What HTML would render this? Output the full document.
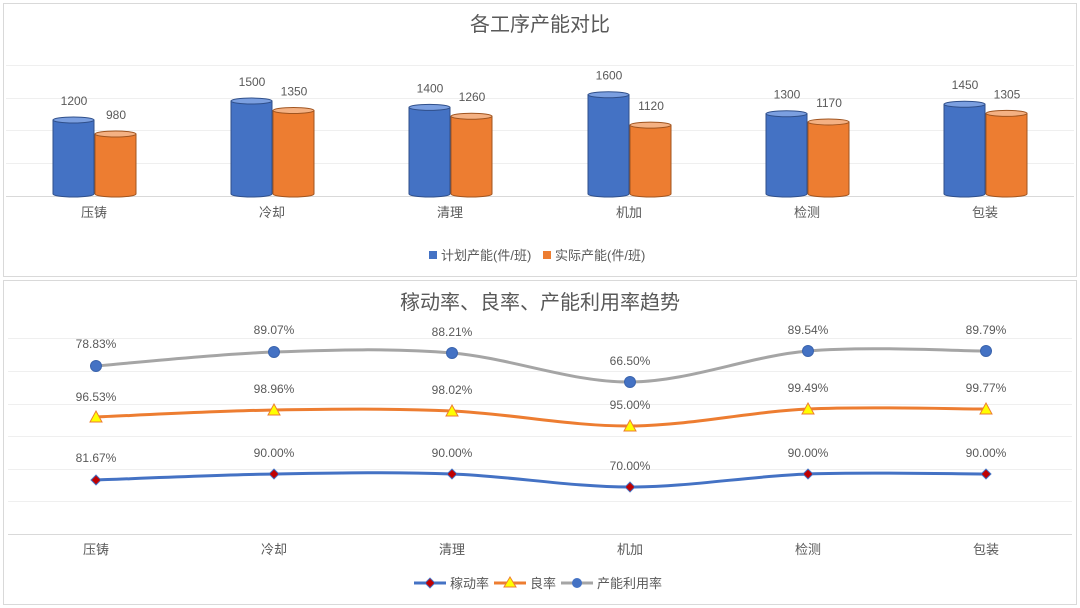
<!DOCTYPE html>
<html><head><meta charset="utf-8"><style>
body{margin:0;background:#fff;width:1080px;height:608px;overflow:hidden}
svg{display:block}
text{font-family:"Liberation Sans","Noto Sans CJK SC",sans-serif;fill:#595959}
</style></head><body>
<svg id="s" width="1080" height="608" viewBox="0 0 1080 608">
<rect x="3.5" y="3.5" width="1073" height="273" fill="#fff" stroke="#d9d9d9"/>
<rect x="3.5" y="280.5" width="1073" height="324" fill="#fff" stroke="#d9d9d9"/>
<text x="540" y="31" font-size="20" text-anchor="middle">各工序产能对比</text>
<g stroke="#efefef" stroke-width="1">
<line x1="6" x2="1074" y1="65.5" y2="65.5"/><line x1="6" x2="1074" y1="98.5" y2="98.5"/><line x1="6" x2="1074" y1="130.5" y2="130.5"/><line x1="6" x2="1074" y1="163.5" y2="163.5"/>
</g>
<line x1="6" x2="1074" y1="196.5" y2="196.5" stroke="#d9d9d9"/>
<g id="bars"></g>
<g font-size="13" text-anchor="middle">
<text x="94" y="217">压铸</text><text x="272" y="217">冷却</text><text x="450" y="217">清理</text><text x="629" y="217">机加</text><text x="807" y="217">检测</text><text x="985" y="217">包装</text>
</g>
<rect x="429" y="251" width="8" height="8" fill="#4472c4"/><text x="441" y="260" font-size="13">计划产能(件/班)</text>
<rect x="543" y="251" width="8" height="8" fill="#ed7d31"/><text x="555" y="260" font-size="13">实际产能(件/班)</text>

<text x="540" y="309" font-size="20" text-anchor="middle">稼动率、良率、产能利用率趋势</text>
<g stroke="#efefef">
<line x1="8" x2="1072" y1="338.5" y2="338.5"/><line x1="8" x2="1072" y1="371.5" y2="371.5"/><line x1="8" x2="1072" y1="404.5" y2="404.5"/><line x1="8" x2="1072" y1="436.5" y2="436.5"/><line x1="8" x2="1072" y1="469.5" y2="469.5"/><line x1="8" x2="1072" y1="501.5" y2="501.5"/>
</g>
<line x1="8" x2="1072" y1="534.5" y2="534.5" stroke="#d9d9d9"/>
<g id="lines"></g>
<g font-size="12" text-anchor="middle">
<text x="96" y="348">78.83%</text><text x="274" y="334">89.07%</text><text x="452" y="336">88.21%</text><text x="630" y="365">66.50%</text><text x="808" y="334">89.54%</text><text x="986" y="334">89.79%</text>
<text x="96" y="401">96.53%</text><text x="274" y="393">98.96%</text><text x="452" y="394">98.02%</text><text x="630" y="409">95.00%</text><text x="808" y="392">99.49%</text><text x="986" y="392">99.77%</text>
<text x="96" y="462">81.67%</text><text x="274" y="457">90.00%</text><text x="452" y="457">90.00%</text><text x="630" y="470">70.00%</text><text x="808" y="457">90.00%</text><text x="986" y="457">90.00%</text>
</g>
<g font-size="13" text-anchor="middle">
<text x="96" y="554">压铸</text><text x="274" y="554">冷却</text><text x="452" y="554">清理</text><text x="630" y="554">机加</text><text x="808" y="554">检测</text><text x="986" y="554">包装</text>
</g>
<line x1="414" x2="446" y1="583" y2="583" stroke="#4472c4" stroke-width="3"/><rect x="426.5" y="579.5" width="7" height="7" fill="#c00000" stroke="#4472c4" transform="rotate(45 430 583)"/>
<text x="450" y="588" font-size="13">稼动率</text>
<line x1="494" x2="526" y1="583" y2="583" stroke="#ed7d31" stroke-width="3"/><polygon points="510,577 516,587 504,587" fill="#ffff00" stroke="#ed7d31"/>
<text x="530" y="588" font-size="13">良率</text>
<line x1="561" x2="593" y1="583" y2="583" stroke="#a5a5a5" stroke-width="3"/><circle cx="577" cy="583" r="5" fill="#4472c4"/>
<text x="597" y="588" font-size="13">产能利用率</text>
</svg>
<script>
var NS="http://www.w3.org/2000/svg",s=document.getElementById('s');
function el(p,t,a){var e=document.createElementNS(NS,t);for(var k in a)e.setAttribute(k,a[k]);p.appendChild(e);return e;}
var bars=document.getElementById('bars');
var cx=[94,272,450,629,807,985],pl=[1200,1500,1400,1600,1300,1450],ac=[980,1350,1260,1120,1170,1305];
var lab=bars;
function cyl(x,v,fill,top,edge){var y=196-v*0.0633,w=41,ry=3;
el(bars,'path',{d:'M'+x+' '+y+' L'+x+' 194 A'+w/2+' '+ry+' 0 0 0 '+(x+w)+' 194 L'+(x+w)+' '+y+' Z',fill:fill,stroke:edge,'stroke-width':1});
el(bars,'ellipse',{cx:x+w/2,cy:y,rx:w/2,ry:ry,fill:top,stroke:edge,'stroke-width':1});
return y;}
for(var i=0;i<6;i++){var x=cx[i];
var y1=cyl(x-41,pl[i],'#4472c4','#7b9fe0','#2f4f8a');
var y2=cyl(x+1,ac[i],'#ed7d31','#f4b183','#a0541f');
var t=el(bars,'text',{x:x-20,y:y1-15,'font-size':12,'text-anchor':'middle'});t.textContent=pl[i];
t=el(bars,'text',{x:x+22,y:y2-15,'font-size':12,'text-anchor':'middle'});t.textContent=ac[i];}
var lx=[96,274,452,630,808,986];
var L=document.getElementById('lines');
function curve(ys){var d='M'+lx[0]+' '+ys[0];for(var i=0;i<5;i++){var p0=[lx[Math.max(i-1,0)],ys[Math.max(i-1,0)]],p1=[lx[i],ys[i]],p2=[lx[i+1],ys[i+1]],p3=[lx[Math.min(i+2,5)],ys[Math.min(i+2,5)]];
d+=' C'+(p1[0]+(p2[0]-p0[0])/6)+' '+(p1[1]+(p2[1]-p0[1])/6)+' '+(p2[0]-(p3[0]-p1[0])/6)+' '+(p2[1]-(p3[1]-p1[1])/6)+' '+p2[0]+' '+p2[1];}return d;}
var g=[366,352,353,382,351,351],o=[417,410,411,426,409,409],b=[480,474,474,487,474,474];
el(L,'path',{d:curve(g),fill:'none',stroke:'#a5a5a5','stroke-width':3});
el(L,'path',{d:curve(o),fill:'none',stroke:'#ed7d31','stroke-width':3});
el(L,'path',{d:curve(b),fill:'none',stroke:'#4472c4','stroke-width':3});
for(var i=0;i<6;i++){
el(L,'circle',{cx:lx[i],cy:g[i],r:5.5,fill:'#4472c4',stroke:'#3b64ad'});
el(L,'polygon',{points:lx[i]+','+(o[i]-6)+' '+(lx[i]+6)+','+(o[i]+5)+' '+(lx[i]-6)+','+(o[i]+5),fill:'#ffff00',stroke:'#ed7d31'});
el(L,'rect',{x:lx[i]-3.5,y:b[i]-3.5,width:7,height:7,fill:'#c00000',stroke:'#4472c4',transform:'rotate(45 '+lx[i]+' '+b[i]+')'});}
</script>
</body></html>
